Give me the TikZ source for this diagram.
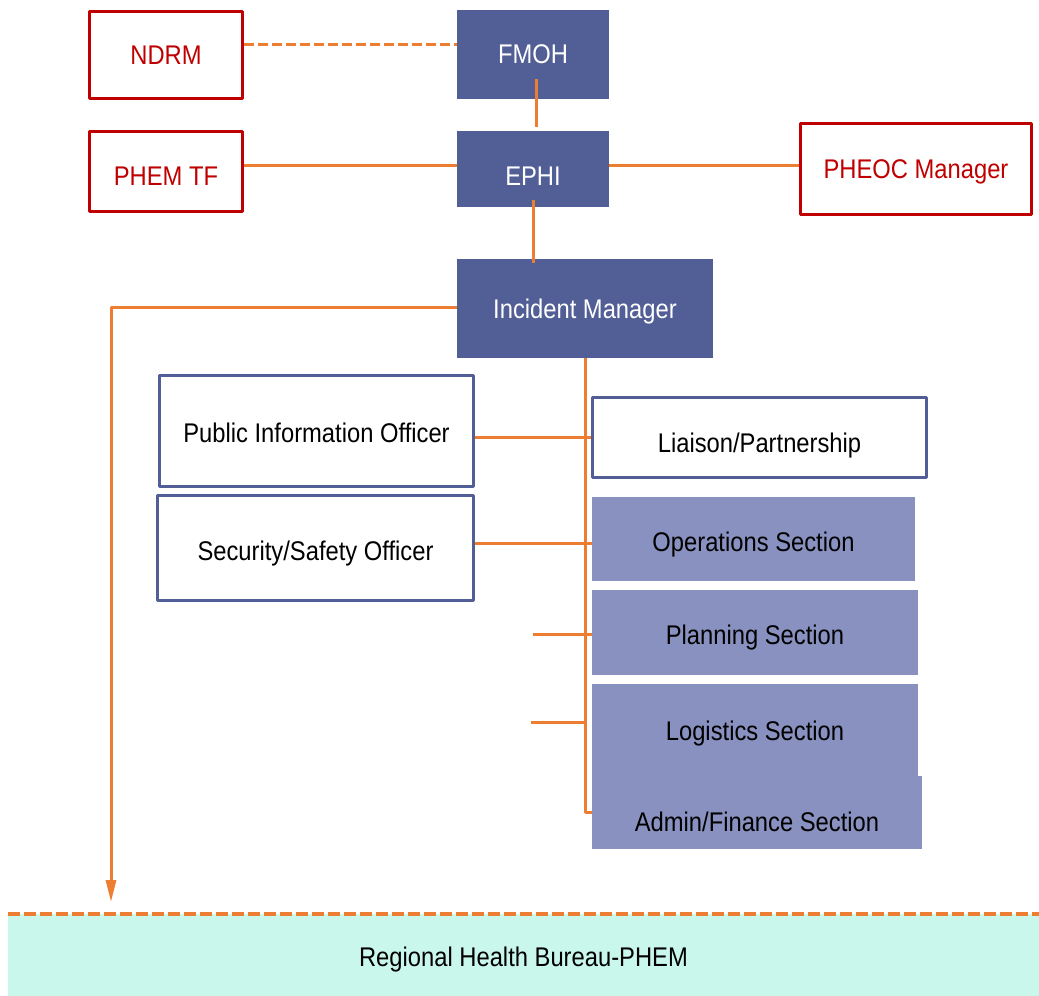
\documentclass[tikz,border=0pt]{standalone}
\usepackage{fontspec}
\setmainfont{Liberation Sans}[FakeStretch=0.88]
\usetikzlibrary{arrows.meta}
\definecolor{ncred}{HTML}{C00000}
\definecolor{ncorange}{HTML}{ED7D31}
\definecolor{ncnavy}{HTML}{525E96}
\definecolor{ncslate}{HTML}{8891BF}
\definecolor{ncmint}{HTML}{C9F7EC}
\tikzset{
	redbox/.style={draw=ncred, line width=3.5pt, text=ncred, fill=white},
	hubbox/.style={fill=ncnavy, text=white},
	officerbox/.style={draw=ncnavy, line width=3pt, fill=white, text=black},
	sectionbox/.style={fill=ncslate, text=black},
	drop/.style={text depth=0pt, text height=#1},
	link/.style={draw=ncorange, line width=3pt}
}
\begin{document}
\begin{tikzpicture}[x=1pt, y=-1pt, font=\fontsize{27}{32}\selectfont, line join=round, >={Triangle[length=22pt,width=10pt]}]
	\useasboundingbox[fill=white] (0,0) rectangle (1039,996);
	% top row
	\node[redbox, minimum width=153, minimum height=87] (ndrm) at (166,55) {NDRM};
	\node[hubbox, minimum width=152, minimum height=89] (fmoh) at (533,54.5) {FMOH};
	\node[redbox, drop=28.4pt, minimum width=153, minimum height=80] (phemtf) at (166,171.5) {PHEM TF};
	\node[hubbox, drop=33.4pt, minimum width=152, minimum height=76] (ephi) at (533,169) {EPHI};
	\node[redbox, drop=19.4pt, minimum width=231, minimum height=91] (pheoc) at (916,169) {PHEOC Manager};
	\node[hubbox, drop=19.4pt, minimum width=256, minimum height=99] (im) at (585,308.5) {Incident Manager};
	% officers and sections
	\node[officerbox, drop=22.4pt, minimum width=314, minimum height=111] (pio) at (316.5,431) {Public Information Officer};
	\node[officerbox, drop=25.4pt, minimum width=316, minimum height=105] (sec) at (315.5,548) {Security/Safety Officer};
	\node[officerbox, drop=30.4pt, minimum width=334, minimum height=80] (liaison) at (759.5,437.5) {Liaison/Partnership};
	\node[sectionbox, drop=25.4pt, minimum width=323, minimum height=84] (ops) at (753.5,539) {Operations Section};
	\node[sectionbox, drop=24.4pt, minimum width=326, minimum height=85] (plan) at (755,632.5) {Planning Section};
	\node[sectionbox, drop=21.4pt, minimum width=326, minimum height=92] (logi) at (755,730) {Logistics Section};
	\node[sectionbox, minimum width=330, minimum height=73, label={[text=black, yshift=-9pt]center:Admin/Finance Section}] (admin) at (757,812.5) {};
	% regional band
	\node[fill=ncmint, drop=23.3pt, minimum width=1031, minimum height=82] (rhb) at (523.5,955) {Regional Health Bureau-PHEM};
	\draw[link, line width=4pt, dash pattern=on 12pt off 4pt] (rhb.north west) -- (rhb.north east);
	% free ends
	\coordinate (rhbarrow) at (111,902);
	\coordinate (planstub) at (533,634);
	\coordinate (logstub) at (531,722);
	% connectors
	\draw[link, dash pattern=on 10pt off 4pt] ([yshift=11pt]ndrm.east) -- ([yshift=11pt]ndrm.east -| fmoh.west);
	\draw[link] ([shift={(3pt,20pt)}]fmoh.south) -- ([xshift=3pt, yshift=4pt]ephi.north);
	\draw[link] ([yshift=4pt]ephi.west) -- ([yshift=4pt]ephi.west -| phemtf.east);
	\draw[link] ([yshift=4pt]ephi.east) -- ([yshift=4pt]ephi.east -| pheoc.west);
	\draw[link] ([yshift=7pt]ephi.south) -- ([yshift=-4pt]ephi.south |- im.north);
	\draw[link, ->] ([yshift=1pt]im.west) -| (rhbarrow);
	\draw[link] (im.south) |- (admin.west);
	\draw[link] (liaison.west) -- (liaison.west -| pio.east);
	\draw[link] ([yshift=-4pt]ops.west) -- ([yshift=-4pt]ops.west -| sec.east);
	\draw[link] (planstub) -- (planstub -| plan.west);
	\draw[link] (logstub) -- (logstub -| im.south);
\end{tikzpicture}
\end{document}
